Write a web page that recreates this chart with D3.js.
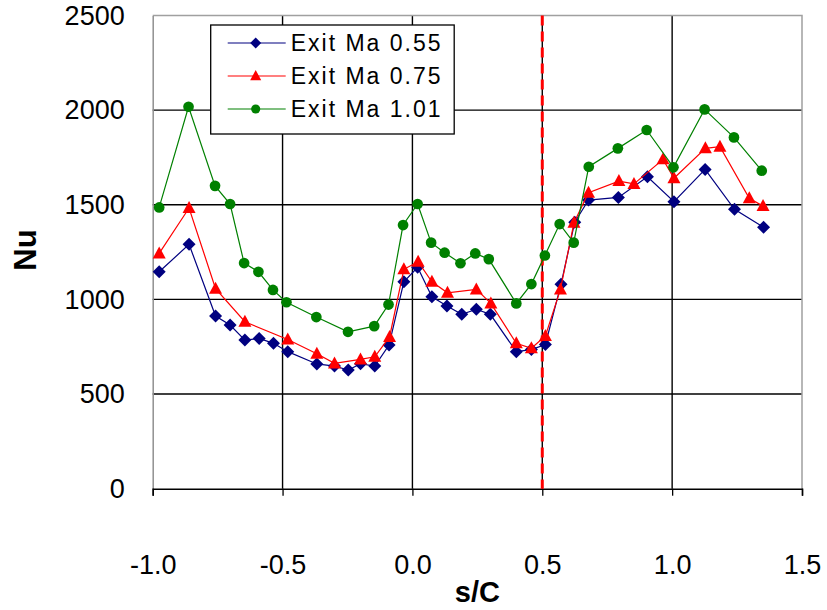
<!DOCTYPE html>
<html>
<head>
<meta charset="utf-8">
<script src="https://cdn.jsdelivr.net/npm/d3@7"></script>
<style>
  body { margin: 0; background: #fff; }
  text { font-family: "Liberation Sans", Arial, sans-serif; fill: #000; }
</style>
</head>
<body>
<div id="chart"></div>
<script>
// Data
var seriesNames = ["Exit Ma 0.55", "Exit Ma 0.75", "Exit Ma 1.01"];

var sc055 = [-0.975, -0.86, -0.758, -0.702, -0.645, -0.59, -0.535, -0.48, -0.368, -0.30, -0.247, -0.20, -0.145, -0.09, -0.033, 0.02, 0.075, 0.133, 0.19, 0.246, 0.30, 0.40, 0.458, 0.512, 0.572, 0.625, 0.678, 0.793, 0.905, 1.007, 1.127, 1.24, 1.352];
var nu055 = [1146, 1291, 912, 865, 785, 794, 768, 724, 659, 648, 627, 660, 648, 759, 1093, 1170, 1014, 965, 921, 948, 921, 724, 735, 762, 1080, 1408, 1525, 1539, 1648, 1516, 1687, 1476, 1381];

var sc075 = [-0.975, -0.86, -0.758, -0.645, -0.48, -0.368, -0.30, -0.20, -0.145, -0.088, -0.033, 0.022, 0.075, 0.135, 0.246, 0.302, 0.40, 0.458, 0.512, 0.57, 0.622, 0.678, 0.795, 0.853, 0.965, 1.007, 1.128, 1.184, 1.297, 1.35];
var nu075 = [1243, 1483, 1057, 882, 788, 713, 662, 683, 697, 802, 1159, 1199, 1093, 1035, 1053, 979, 768, 742, 807, 1053, 1405, 1564, 1625, 1610, 1740, 1640, 1798, 1807, 1534, 1493];

var sc101 = [-0.975, -0.862, -0.76, -0.702, -0.648, -0.593, -0.537, -0.485, -0.37, -0.248, -0.147, -0.092, -0.036, 0.02, 0.072, 0.124, 0.185, 0.242, 0.294, 0.40, 0.458, 0.51, 0.567, 0.621, 0.679, 0.791, 0.902, 1.005, 1.125, 1.238, 1.345];
var nu101 = [1486, 2018, 1600, 1504, 1192, 1146, 1050, 985, 907, 829, 859, 973, 1393, 1504, 1300, 1247, 1191, 1243, 1213, 979, 1081, 1232, 1398, 1300, 1701, 1798, 1895, 1698, 2004, 1856, 1680];

var xTicks = [-1.0, -0.5, 0.0, 0.5, 1.0, 1.5];
var yTicks = [0, 500, 1000, 1500, 2000, 2500];
var markerLine = 0.5;

var colors = ["#000080", "#ff0000", "#008000"];
var shapes = ["diamond", "triangle", "circle"];

var W = 827, H = 610;
var margin = {top: 15.5, right: 25, bottom: 121.3, left: 152.7};
var width = W - margin.left - margin.right,
    height = H - margin.top - margin.bottom;

var svg = d3.select("#chart")
  .append("svg")
    .attr("width", W)
    .attr("height", H)
  .append("g")
    .attr("transform", "translate(" + margin.left + "," + margin.top + ")");

var x = d3.scaleLinear().domain([-1, 1.5]).range([0, width]);
var y = d3.scaleLinear().domain([0, 2500]).range([height, 0]);

// grid
svg.append("g")
  .selectAll("line.gx")
  .data(xTicks.slice(1, -1))
  .enter().append("line")
    .attr("x1", function(d) { return x(d); })
    .attr("x2", function(d) { return x(d); })
    .attr("y1", 0).attr("y2", height)
    .attr("stroke", "#000").attr("stroke-width", 1.4);
svg.append("g")
  .selectAll("line.gy")
  .data(yTicks.slice(1, -1))
  .enter().append("line")
    .attr("x1", 0).attr("x2", width)
    .attr("y1", function(d) { return y(d); })
    .attr("y2", function(d) { return y(d); })
    .attr("stroke", "#000").attr("stroke-width", 1.4);

// frame: top and right grey
svg.append("path")
  .attr("d", "M0,0H" + width + "V" + height)
  .attr("fill", "none").attr("stroke", "#a0a0a0").attr("stroke-width", 1.5);

// axes
var yAxis = svg.append("g")
  .call(d3.axisLeft(y).tickValues(yTicks).tickSize(0).tickPadding(28).tickFormat(d3.format("d")));
yAxis.select(".domain").attr("stroke", "#909090").attr("stroke-width", 1.5);
yAxis.selectAll("text")
  .style("font-size", "27px")
  .style("font-family", "Liberation Sans, Arial, sans-serif");

var xAxis = svg.append("g")
  .attr("transform", "translate(0," + height + ")")
  .call(d3.axisBottom(x).tickValues(xTicks).tickSize(7)
    .tickFormat(function(d) { return d.toFixed(1); }));
xAxis.select(".domain").attr("stroke", "#000").attr("stroke-width", 1.5);
xAxis.selectAll(".tick line").attr("stroke", "#000").attr("stroke-width", 1.3);
xAxis.selectAll("text")
  .attr("y", 76)
  .attr("dy", "0.35em")
  .style("font-size", "27px")
  .style("font-family", "Liberation Sans, Arial, sans-serif");

// axis titles
svg.append("text")
  .attr("transform", "translate(" + (25 - margin.left) + "," + (250 - margin.top) + ") rotate(-90)")
  .attr("text-anchor", "middle")
  .attr("dy", "0.35em")
  .style("font-size", "31px")
  .style("font-weight", "bold")
  .text("Nu");
svg.append("text")
  .attr("x", width / 2)
  .attr("y", 592 - margin.top)
  .attr("text-anchor", "middle")
  .attr("dy", "0.35em")
  .style("font-size", "29px")
  .style("font-weight", "bold")
  .text("s/C");

// red dashed line at s/C = 0.5
svg.append("line")
  .attr("x1", x(markerLine)).attr("x2", x(markerLine))
  .attr("y1", 0).attr("y2", height)
  .attr("stroke", "#ff0000").attr("stroke-width", 3)
  .attr("stroke-dasharray", "10,6");

function markerPath(shape, k) {
  k = k || 1;
  if (shape == "diamond") return "M0," + (-6.5 * k) + "L" + (6.5 * k) + ",0L0," + (6.5 * k) + "L" + (-6.5 * k) + ",0Z";
  if (shape == "triangle") return "M0," + (-7 * k) + "L" + (6.5 * k) + "," + (5 * k) + "L" + (-6.5 * k) + "," + (5 * k) + "Z";
  return d3.symbol().type(d3.symbolCircle).size(90 * k * k)();
}

var allSeries = [
  {xs: sc055, ys: nu055},
  {xs: sc075, ys: nu075},
  {xs: sc101, ys: nu101}
];

var line = d3.line()
  .x(function(d) { return x(d[0]); })
  .y(function(d) { return y(d[1]); });

allSeries.forEach(function(s, i) {
  var pts = s.xs.map(function(v, j) { return [v, s.ys[j]]; });
  svg.append("path")
    .datum(pts)
    .attr("d", line)
    .attr("fill", "none")
    .attr("stroke", colors[i])
    .attr("stroke-width", 1.2);
  svg.selectAll("path.m" + i)
    .data(pts)
    .enter().append("path")
      .attr("class", "m" + i)
      .attr("transform", function(d) { return "translate(" + x(d[0]) + "," + y(d[1]) + ")"; })
      .attr("d", markerPath(shapes[i]))
      .attr("fill", colors[i]);
});

// legend
var lg = svg.append("g")
  .attr("transform", "translate(" + (210.7 - margin.left) + "," + (25 - margin.top) + ")");
lg.append("rect")
  .attr("width", 243.5).attr("height", 109)
  .attr("fill", "#fff").attr("stroke", "#000").attr("stroke-width", 1.3);
seriesNames.forEach(function(name, i) {
  var ry = 18 + i * 33;
  lg.append("line")
    .attr("x1", 17).attr("x2", 75)
    .attr("y1", ry).attr("y2", ry)
    .attr("stroke", colors[i]).attr("stroke-width", 1.2);
  lg.append("path")
    .attr("transform", "translate(45," + ry + ")")
    .attr("d", markerPath(shapes[i], 0.85))
    .attr("fill", colors[i]);
  lg.append("text")
    .attr("x", 80).attr("y", ry)
    .attr("dy", "0.35em")
    .style("font-size", "23px")
    .style("letter-spacing", "2px")
    .text(name);
});
</script>
</body>
</html>
